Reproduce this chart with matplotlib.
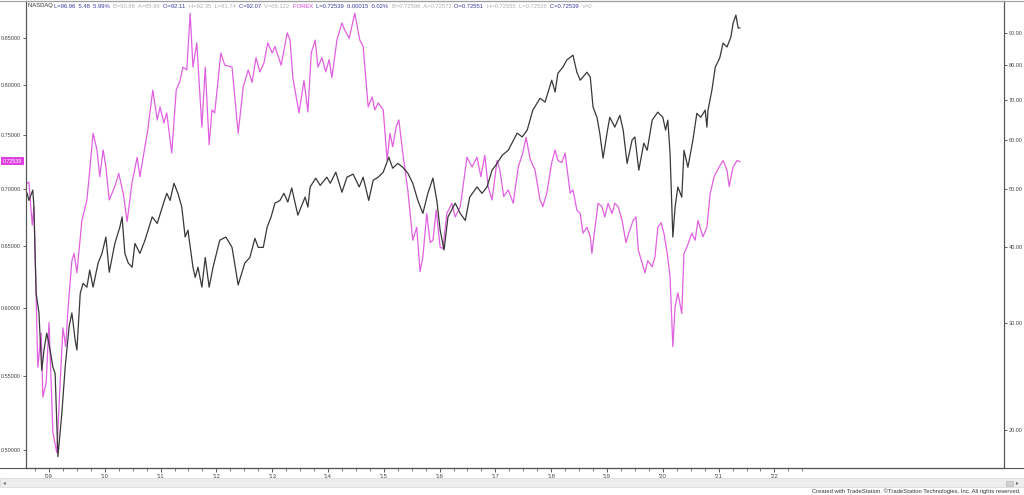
import matplotlib
matplotlib.use('Agg')
import matplotlib.pyplot as plt
from matplotlib.patches import Rectangle
from matplotlib.lines import Line2D
from matplotlib.ticker import FixedLocator, NullLocator, FixedFormatter

# ---------------- data ----------------
nasdaq_t = [2008.61, 2008.64, 2008.71, 2008.73, 2008.77, 2008.82, 2008.87, 2008.91, 2008.96, 2009.02,
            2009.07, 2009.11, 2009.16, 2009.23, 2009.29, 2009.36, 2009.41, 2009.47, 2009.50, 2009.56,
            2009.61, 2009.68, 2009.73, 2009.79, 2009.88, 2009.95, 2010.02, 2010.08, 2010.18, 2010.27,
            2010.31, 2010.36, 2010.42, 2010.49, 2010.54, 2010.63, 2010.72, 2010.85, 2010.94, 2011.03,
            2011.11, 2011.17, 2011.24, 2011.31, 2011.38, 2011.44, 2011.49, 2011.58, 2011.62, 2011.67,
            2011.74, 2011.80, 2011.87, 2011.94, 2012.06, 2012.17, 2012.28, 2012.39, 2012.51, 2012.60,
            2012.69, 2012.75, 2012.84, 2012.91, 2012.98, 2013.05, 2013.14, 2013.21, 2013.28, 2013.35,
            2013.46, 2013.59, 2013.64, 2013.68, 2013.78, 2013.86, 2013.98, 2014.04, 2014.14, 2014.25,
            2014.34, 2014.45, 2014.56, 2014.63, 2014.73, 2014.81, 2014.90, 2014.99, 2015.09, 2015.16,
            2015.25, 2015.34, 2015.43, 2015.52, 2015.61, 2015.70, 2015.79, 2015.88, 2015.95, 2016.01,
            2016.08, 2016.15, 2016.28, 2016.37, 2016.46, 2016.54, 2016.67, 2016.76, 2016.85, 2016.94,
            2017.03, 2017.12, 2017.23, 2017.39, 2017.48, 2017.57, 2017.67, 2017.80, 2017.89, 2018.01,
            2018.07, 2018.12, 2018.21, 2018.28, 2018.39, 2018.46, 2018.52, 2018.64, 2018.70, 2018.75,
            2018.82, 2018.87, 2018.93, 2019.00, 2019.05, 2019.14, 2019.23, 2019.29, 2019.36, 2019.45,
            2019.50, 2019.57, 2019.66, 2019.72, 2019.81, 2019.91, 2020.00, 2020.05, 2020.09, 2020.13,
            2020.18, 2020.22, 2020.27, 2020.34, 2020.38, 2020.45, 2020.54, 2020.61, 2020.68, 2020.76,
            2020.79, 2020.81, 2020.88, 2020.94, 2021.02, 2021.08, 2021.15, 2021.22, 2021.26, 2021.31,
            2021.35, 2021.38]
nasdaq_v = [49.1, 47.8, 49.7, 46.6, 33.6, 31.2, 25.1, 27.1, 28.9, 27.1,
            25.4, 24.8, 18.1, 21.3, 25.4, 29.6, 31.2, 28.1, 27.1, 33.6,
            34.9, 34.4, 36.7, 34.4, 37.7, 39.1, 41.6, 36.4, 40.6, 43.2,
            44.9, 39.1, 37.7, 37.1, 40.6, 39.1, 41.1, 44.9, 43.8, 46.6,
            49.1, 47.8, 51.0, 49.1, 46.6, 41.6, 42.7, 37.1, 35.7, 37.1,
            34.4, 38.5, 34.4, 37.1, 41.1, 41.6, 40.0, 34.7, 37.7, 38.5,
            41.4, 40.0, 40.0, 43.2, 44.9, 47.3, 47.8, 49.1, 47.5, 50.1,
            45.2, 48.4, 46.6, 50.3, 52.0, 50.6, 52.2, 51.0, 53.2, 49.3,
            52.2, 52.8, 50.3, 52.2, 47.8, 51.6, 52.2, 53.2, 56.3, 54.0,
            55.0, 54.2, 53.0, 51.0, 47.8, 45.5, 49.1, 52.0, 47.8, 42.7,
            39.6, 44.9, 47.3, 45.5, 44.3, 48.4, 50.3, 49.1, 50.3, 53.6,
            55.0, 56.7, 57.8, 61.7, 60.8, 62.4, 67.3, 70.4, 69.4, 75.4,
            72.1, 77.4, 79.2, 81.4, 82.9, 77.7, 75.4, 77.7, 76.3, 68.1,
            65.5, 61.7, 56.1, 61.7, 65.5, 63.1, 66.0, 62.4, 55.0, 60.1,
            60.8, 53.6, 59.4, 57.8, 64.8, 66.8, 65.5, 62.4, 64.8, 57.2,
            41.6, 46.6, 50.3, 48.4, 57.8, 54.2, 60.1, 66.5, 65.5, 67.3,
            63.1, 67.3, 72.6, 79.2, 82.0, 86.8, 85.5, 88.8, 93.6, 96.5,
            91.9, 91.9]

forex_t = [2008.61, 2008.64, 2008.70, 2008.73, 2008.77, 2008.80, 2008.86, 2008.89, 2008.95, 2009.00,
           2009.07, 2009.14, 2009.20, 2009.25, 2009.30, 2009.34, 2009.41, 2009.45, 2009.50, 2009.59,
           2009.68, 2009.73, 2009.79, 2009.86, 2009.91, 2009.97, 2010.02, 2010.08, 2010.18, 2010.25,
           2010.33, 2010.40, 2010.49, 2010.58, 2010.63, 2010.70, 2010.77, 2010.86, 2010.94, 2010.99,
           2011.06, 2011.11, 2011.20, 2011.28, 2011.35, 2011.40, 2011.47, 2011.53, 2011.58, 2011.65,
           2011.67, 2011.74, 2011.80, 2011.87, 2011.92, 2011.97, 2012.08, 2012.15, 2012.28, 2012.39,
           2012.48, 2012.57, 2012.64, 2012.71, 2012.78, 2012.85, 2012.92, 2013.00, 2013.05, 2013.16,
           2013.27, 2013.32, 2013.37, 2013.43, 2013.48, 2013.57, 2013.64, 2013.70, 2013.77, 2013.82,
           2013.89, 2013.96, 2014.02, 2014.07, 2014.16, 2014.25, 2014.30, 2014.38, 2014.48, 2014.57,
           2014.63, 2014.72, 2014.79, 2014.84, 2014.90, 2014.99, 2015.06, 2015.11, 2015.16, 2015.22,
           2015.27, 2015.34, 2015.43, 2015.52, 2015.59, 2015.65, 2015.70, 2015.77, 2015.83, 2015.88,
           2015.94, 2016.01, 2016.06, 2016.13, 2016.22, 2016.28, 2016.37, 2016.42, 2016.49, 2016.58,
           2016.67, 2016.74, 2016.81, 2016.87, 2016.94, 2017.03, 2017.08, 2017.15, 2017.23, 2017.32,
           2017.41, 2017.49, 2017.55, 2017.62, 2017.71, 2017.80, 2017.85, 2017.92, 2018.01, 2018.07,
           2018.12, 2018.19, 2018.25, 2018.34, 2018.39, 2018.46, 2018.52, 2018.57, 2018.64, 2018.70,
           2018.73, 2018.78, 2018.84, 2018.91, 2018.96, 2019.02, 2019.09, 2019.14, 2019.20, 2019.27,
           2019.34, 2019.39, 2019.47, 2019.52, 2019.56, 2019.63, 2019.68, 2019.73, 2019.81, 2019.86,
           2019.91, 2019.97, 2020.02, 2020.08, 2020.13, 2020.18, 2020.22, 2020.27, 2020.34, 2020.38,
           2020.43, 2020.52, 2020.58, 2020.63, 2020.72, 2020.79, 2020.85, 2020.92, 2021.01, 2021.08,
           2021.15, 2021.19, 2021.26, 2021.33, 2021.38]
forex_v = [0.705, 0.706, 0.668, 0.684, 0.606, 0.556, 0.581, 0.535, 0.545, 0.589,
           0.511, 0.498, 0.545, 0.585, 0.571, 0.599, 0.638, 0.644, 0.628, 0.672,
           0.690, 0.717, 0.752, 0.736, 0.711, 0.736, 0.720, 0.690, 0.702, 0.714,
           0.696, 0.671, 0.706, 0.729, 0.711, 0.733, 0.755, 0.795, 0.765, 0.778,
           0.762, 0.772, 0.733, 0.795, 0.805, 0.819, 0.816, 0.878, 0.819, 0.845,
           0.823, 0.758, 0.819, 0.741, 0.775, 0.772, 0.834, 0.821, 0.819, 0.752,
           0.798, 0.816, 0.803, 0.829, 0.814, 0.823, 0.845, 0.834, 0.841, 0.821,
           0.856, 0.848, 0.808, 0.788, 0.772, 0.805, 0.773, 0.834, 0.848, 0.819,
           0.829, 0.814, 0.827, 0.808, 0.848, 0.867, 0.859, 0.850, 0.878, 0.848,
           0.841, 0.778, 0.788, 0.775, 0.782, 0.775, 0.726, 0.752, 0.739, 0.758,
           0.765, 0.733, 0.699, 0.655, 0.666, 0.629, 0.641, 0.678, 0.653, 0.655,
           0.681, 0.649, 0.648, 0.678, 0.687, 0.675, 0.684, 0.702, 0.729, 0.720,
           0.729, 0.711, 0.731, 0.702, 0.690, 0.726, 0.717, 0.693, 0.699, 0.687,
           0.720, 0.733, 0.748, 0.728, 0.717, 0.690, 0.684, 0.696, 0.724, 0.736,
           0.726, 0.724, 0.733, 0.696, 0.699, 0.681, 0.678, 0.661, 0.666, 0.658,
           0.644, 0.664, 0.687, 0.684, 0.675, 0.687, 0.678, 0.687, 0.684, 0.672,
           0.653, 0.661, 0.672, 0.675, 0.647, 0.636, 0.628, 0.638, 0.633, 0.641,
           0.666, 0.670, 0.661, 0.644, 0.625, 0.571, 0.601, 0.612, 0.596, 0.644,
           0.649, 0.661, 0.655, 0.672, 0.658, 0.666, 0.696, 0.711, 0.720, 0.726,
           0.717, 0.702, 0.720, 0.726, 0.725]

left_ticks = [0.50, 0.55, 0.60, 0.65, 0.70, 0.75, 0.80, 0.85]
right_ticks = [20, 30, 40, 50, 60, 70, 80, 90]
year_ticks = list(range(2009, 2023))
year_labels = ["'09", "'10", "'11", "'12", "'13", "'14", "'15", "'16", "'17", "'18", "'19", "'20", "'21", "'22"]
last_forex = 0.72539

header_segments = [
    ("NASDAQ ", '#333333'), ("L=96.96  5.48  5.99%  ", '#3a3aa0'), ("B=90.88  A=95.99  ", '#b0b0b0'),
    ("O=92.11  ", '#3a3aa0'), ("H=92.35  L=91.74  ", '#b0b0b0'), ("C=92.07  ", '#3a3aa0'),
    ("V=66.122  ", '#b0b0b0'), ("FOREX  ", '#e040e0'), ("L=0.72539  0.00015  0.02%  ", '#3a3aa0'),
    ("B=0.72596  A=0.72572  ", '#b0b0b0'), ("O=0.72551  ", '#3a3aa0'),
    ("H=0.72555  L=0.72526  ", '#b0b0b0'), ("C=0.72539  ", '#3a3aa0'), ("V=0", '#b0b0b0'),
]
footer = "Created with TradeStation. \u00a9TradeStation Technologies, Inc. All rights reserved."

# ---------------- figure ----------------
W, H = 1024, 495
plt.rcParams['font.family'] = ['Liberation Sans', 'DejaVu Sans']
fig = plt.figure(figsize=(W / 100, H / 100), dpi=100)
fig.patch.set_facecolor('white')

def fx(px):
    return px / W

def fy(py):
    return 1 - py / H

x0, x1, y0, y1 = 26, 1004.3, 1, 467.7
ax = fig.add_axes([fx(x0), fy(y1), fx(x1 - x0), (y1 - y0) / H])
ax.set_facecolor('white')
ax.set_yscale('log')
ax.set_ylim(0.4884, 0.8919)
ax.set_xlim(2008.588, 2026.12)

ax2 = ax.twinx()
ax2.set_yscale('log')
ax2.set_ylim(17.35, 101.8)

ax.plot(forex_t, forex_v, color='#e060e0', lw=0.9, solid_joinstyle='round')
ax2.plot(nasdaq_t, nasdaq_v, color='#383838', lw=0.9, solid_joinstyle='round')

axis_col = '#555555'
tick_col = '#444444'
ax.yaxis.set_major_locator(FixedLocator(left_ticks))
ax.yaxis.set_major_formatter(FixedFormatter(['%.5f' % v for v in left_ticks]))
ax.yaxis.set_minor_locator(NullLocator())
ax2.yaxis.set_major_locator(FixedLocator(right_ticks))
ax2.yaxis.set_major_formatter(FixedFormatter(['%.2f' % v for v in right_ticks]))
ax2.yaxis.set_minor_locator(NullLocator())

ax.set_xticks(year_ticks)
ax.set_xticklabels(year_labels)
minor_x = [2008.75 + 0.25 * i for i in range(58)]
ax.set_xticks([m for m in minor_x if m <= 2022.5], minor=True)

for a in (ax, ax2):
    a.tick_params(axis='y', which='major', labelsize=4, colors=tick_col, length=2.5, width=0.6, pad=1)
ax.tick_params(axis='x', which='major', labelsize=4.2, colors=tick_col, length=3, width=0.6, pad=1.5)
ax.tick_params(axis='x', which='minor', length=2, width=0.5, colors=tick_col)

for a in (ax, ax2):
    for s in ('left', 'right'):
        a.spines[s].set_color(axis_col)
        a.spines[s].set_linewidth(0.8)
    a.spines['top'].set_color('#a0a0a0')
    a.spines['top'].set_linewidth(0.8)
    a.spines['bottom'].set_color(axis_col)
    a.spines['bottom'].set_linewidth(0.8)

# full-width bottom line and top border
fig.add_artist(Line2D([0, 1], [fy(467.7), fy(467.7)], color=axis_col, lw=0.8, transform=fig.transFigure))
fig.add_artist(Line2D([0, 1], [fy(0.5), fy(0.5)], color='#a0a0a0', lw=0.8, transform=fig.transFigure))

# price tag on left axis
fig.add_artist(Rectangle((0, 0), 1, 1, visible=False))
ax.annotate('0.72539', xy=(fx(12.5), last_forex), xycoords=('figure fraction', 'data'),
            ha='center', va='center', fontsize=3.8, color='white', annotation_clip=False,
            bbox=dict(boxstyle='square,pad=0.3', fc='#e040e0', ec='none'))

# header rainbow text, each segment follows the previous one
fs_h = 4.2
t = ax.annotate(header_segments[0][0], xy=(fx(28), fy(8.5)), xycoords='figure fraction',
                color=header_segments[0][1], fontsize=fs_h, ha='left', va='bottom',
                annotation_clip=False)
for s, c in header_segments[1:]:
    t = ax.annotate(s, xy=(1, 0), xycoords=t, color=c, fontsize=fs_h, ha='left', va='bottom',
                    annotation_clip=False)

# scrollbar
fig.add_artist(Rectangle((0, fy(486.7)), 1, (486.7 - 477.7) / H, transform=fig.transFigure,
                         facecolor='#ededed', edgecolor='#d8d8d8', lw=0.5))
fig.add_artist(Rectangle((fx(1006), fy(485.5)), fx(7), 4.5 / H, transform=fig.transFigure,
                         facecolor='#d0d0d0', edgecolor='#b8b8b8', lw=0.5))
fig.text(fx(3), fy(482.2), '\u25c2', fontsize=4, color='#666666', ha='left', va='center',
         family=['DejaVu Sans'])
fig.text(fx(1016), fy(482.2), '\u25b8', fontsize=4, color='#666666', ha='left', va='center',
         family=['DejaVu Sans'])

# footer
fig.text(fx(1021), fy(491.5), footer, fontsize=4.2, color='#333333', ha='right', va='center',
         family=['Liberation Sans Narrow', 'Liberation Sans'])

fig.savefig('out.png', dpi=100, facecolor='white')
